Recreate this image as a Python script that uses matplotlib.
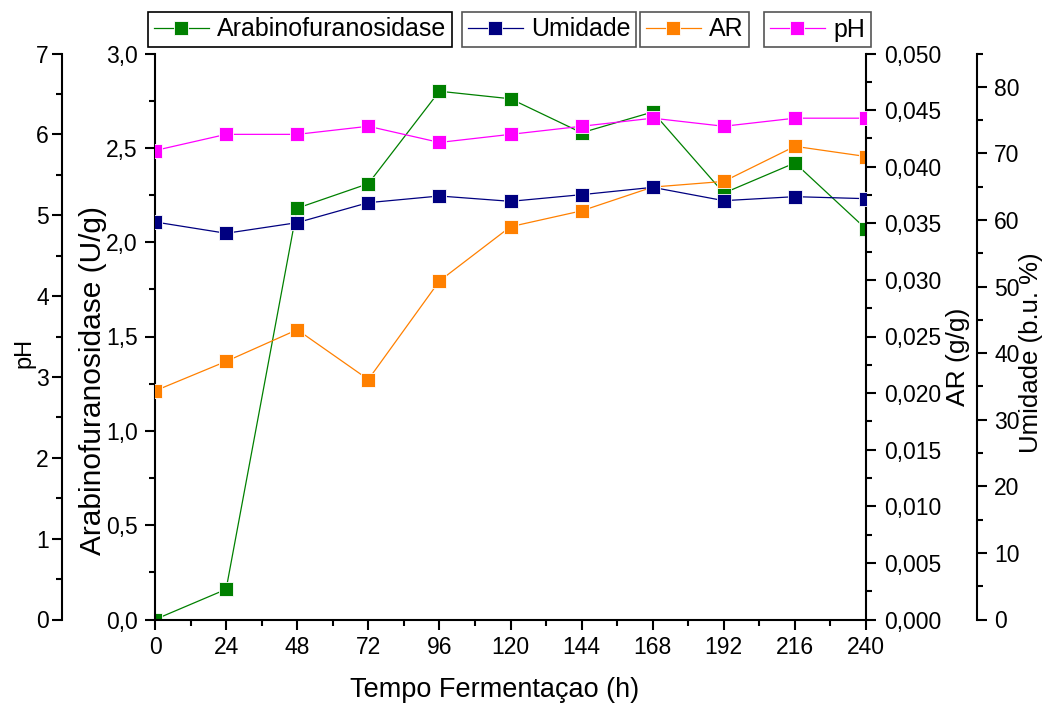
import matplotlib
matplotlib.use("Agg")
import matplotlib.pyplot as plt
from matplotlib.ticker import MultipleLocator, FuncFormatter
from matplotlib.lines import Line2D

plt.rcParams["font.family"] = ["Liberation Sans", "DejaVu Sans"]

# data
tempo = [0, 24, 48, 72, 96, 120, 144, 168, 192, 216, 240]
arabino = [0.0, 0.16, 2.18, 2.31, 2.80, 2.76, 2.58, 2.69, 2.26, 2.42, 2.07]
umidade = [59.7, 58.0, 59.6, 62.6, 63.6, 62.8, 63.8, 64.9, 62.9, 63.5, 63.2]
ar = [0.0202, 0.0228, 0.0256, 0.0212, 0.0299, 0.0347, 0.0361, 0.0382, 0.0387, 0.0418, 0.0409]
ph = [5.8, 6.0, 6.0, 6.1, 5.9, 6.0, 6.1, 6.2, 6.1, 6.2, 6.2]

W, H = 1044, 703
fig = plt.figure(figsize=(W / 100, H / 100), dpi=100)
L, R, B, T = 155, 866, 619.5, 53.5
ax = fig.add_axes([L / W, 1 - B / H, (R - L) / W, (B - T) / H])
ax_ar = ax.twinx()
ax_um = ax.twinx()
ax_ph = ax.twinx()

FS = 16.5
LW = 1.5
comma = lambda fmt: FuncFormatter(lambda v, p: (fmt % v).replace(".", ","))

def style(a, side, pad):
    for s in a.spines.values():
        s.set_visible(False)
        s.set_linewidth(LW)
    a.spines[side].set_visible(True)
    a.tick_params(axis="y", which="major", direction="out", length=7, width=LW, labelsize=FS, pad=pad)
    a.tick_params(axis="y", which="minor", direction="out", length=4.5, width=LW)
    a.patch.set_visible(False)

kw = dict(lw=0.9, marker="s", ms=10, mew=0.6, mec="white")

# Arabinofuranosidase (main)
style(ax, "left", 5.5)
ax.spines["bottom"].set_visible(True)
ln_ara, = ax.plot(tempo, arabino, color="#008000", label="Arabinofuranosidase", **kw)
ax.set_xlim(0, 240)
ax.set_ylim(0, 3.0)
ax.xaxis.set_major_locator(MultipleLocator(24))
ax.xaxis.set_minor_locator(MultipleLocator(12))
ax.yaxis.set_major_locator(MultipleLocator(0.5))
ax.yaxis.set_minor_locator(MultipleLocator(0.25))
ax.yaxis.set_major_formatter(comma("%.1f"))
ax.tick_params(axis="x", which="major", direction="out", length=7, width=LW, labelsize=FS, pad=5)
ax.tick_params(axis="x", which="minor", direction="out", length=4.5, width=LW)
ax.set_ylabel("Arabinofuranosidase (U/g)", fontsize=21.5, va="center")
ax.yaxis.set_label_coords(-0.087, 0.423)
ax.set_xlabel("Tempo Fermentaçao (h)", fontsize=19.5, va="baseline")
ax.xaxis.set_label_coords(0.477, -0.137)

# AR
style(ax_ar, "right", 6)
ln_ar, = ax_ar.plot(tempo, ar, color="#FF8000", label="AR", **kw)
ax_ar.set_ylim(0, 0.050)
ax_ar.yaxis.set_major_locator(MultipleLocator(0.005))
ax_ar.yaxis.set_minor_locator(MultipleLocator(0.0025))
ax_ar.yaxis.set_major_formatter(comma("%.3f"))
ax_ar.set_ylabel("AR (g/g)", fontsize=19, rotation=90, va="center")
ax_ar.yaxis.set_label_coords(1.13, 0.464)

# Umidade
style(ax_um, "right", 5.5)
ax_um.spines["right"].set_position(("outward", 111 * 0.72))
ln_um, = ax_um.plot(tempo, umidade, color="#000080", label="Umidade", **kw)
ax_um.set_ylim(0, 85)
ax_um.yaxis.set_major_locator(MultipleLocator(10))
ax_um.yaxis.set_minor_locator(MultipleLocator(5))
ax_um.set_ylabel("Umidade (b.u. %)", fontsize=18.5, rotation=90, va="center")
ax_um.yaxis.set_label_coords(1.232, 0.471)

# pH
style(ax_ph, "left", 2.5)
ax_ph.spines["left"].set_position(("outward", 93 * 0.72))
ax_ph.yaxis.set_ticks_position("left")
ax_ph.yaxis.set_label_position("left")
ln_ph, = ax_ph.plot(tempo, ph, color="#FF00FF", label="pH", **kw)
ax_ph.set_ylim(0, 7)
ax_ph.yaxis.set_major_locator(MultipleLocator(1))
ax_ph.yaxis.set_minor_locator(MultipleLocator(0.5))
ax_ph.set_ylabel("pH", fontsize=17, va="center")
ax_ph.yaxis.set_label_coords(-0.183, 0.471)

for a in (ax_ar, ax_um, ax_ph):
    a.tick_params(axis="x", which="both", bottom=False, top=False, labelbottom=False, labeltop=False)

# four separate legend boxes along the top
boxes = [(ln_ara, 148, "black"), (ln_um, 462, "#555555"), (ln_ar, 640, "#555555"), (ln_ph, 764, "#555555")]
for h, x0, ec in boxes:
    proxy = Line2D([], [], color=h.get_color(), lw=0.9, marker="s", ms=10, mec="white", mew=0.6)
    leg = fig.legend([proxy], [h.get_label()], loc="upper left",
                     bbox_to_anchor=(x0 / W, 1 - 12 / H), borderaxespad=0,
                     fontsize=18, frameon=True, fancybox=False, framealpha=1,
                     handlelength=2.2, handletextpad=0.35, borderpad=0.22)
    leg.get_frame().set_edgecolor(ec)
    leg.get_frame().set_linewidth(1.2)

fig.savefig("out.png", dpi=100, facecolor="white")
